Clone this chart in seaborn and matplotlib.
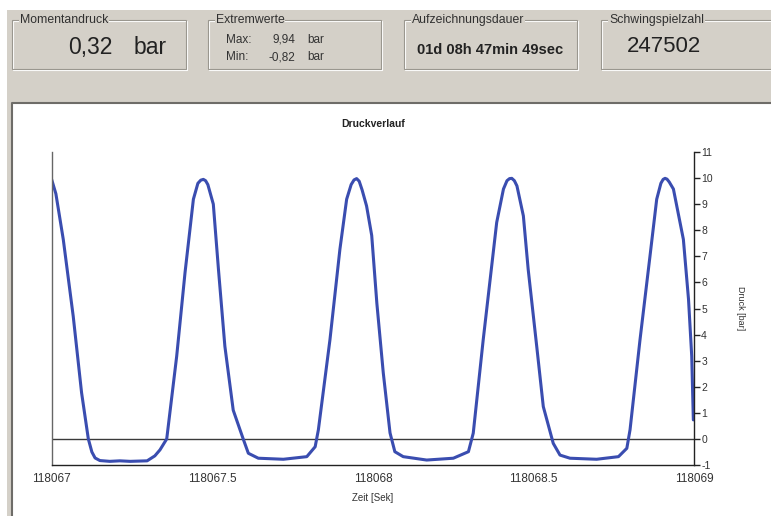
import matplotlib
matplotlib.use("Agg")
import matplotlib.pyplot as plt
import seaborn as sns
import pandas as pd
from matplotlib.patches import Rectangle
from matplotlib.lines import Line2D

# pressure trace (time in s, pressure in bar)
zeit = [118067.000, 118067.013, 118067.036, 118067.067, 118067.093, 118067.114, 118067.125,
        118067.135, 118067.150, 118067.181, 118067.212, 118067.244, 118067.297, 118067.321,
        118067.337, 118067.358, 118067.389, 118067.415, 118067.441, 118067.455, 118067.464,
        118067.472, 118067.479,
        118067.486, 118067.503, 118067.519, 118067.539, 118067.565, 118067.596, 118067.612,
        118067.643, 118067.721, 118067.794, 118067.820, 118067.830, 118067.866, 118067.897,
        118067.918, 118067.932, 118067.941, 118067.949, 118067.957, 118067.966, 118067.980,
        118067.996, 118068.012,
        118068.032, 118068.053, 118068.068, 118068.094, 118068.167, 118068.250, 118068.297,
        118068.312, 118068.343, 118068.385, 118068.406, 118068.417, 118068.425, 118068.432,
        118068.440, 118068.448,
        118068.468, 118068.483, 118068.510, 118068.530, 118068.561, 118068.582, 118068.613,
        118068.696, 118068.764, 118068.790, 118068.800, 118068.831, 118068.862, 118068.883,
        118068.896, 118068.903, 118068.909, 118068.915, 118068.922, 118068.935, 118068.966,
        118068.982, 118068.992, 118068.997]
druck = [9.94, 9.40, 7.65, 4.70, 1.77, 0.00, -0.50,
         -0.73, -0.83, -0.86, -0.84, -0.86, -0.84, -0.65,
         -0.42, 0.00, 3.17, 6.38, 9.19, 9.80, 9.92,
         9.95, 9.90,
         9.75, 9.00, 6.50, 3.55, 1.10, 0.00, -0.55,
         -0.74, -0.78, -0.68, -0.30, 0.35, 3.80, 7.27,
         9.19, 9.75, 9.93, 9.98, 9.88, 9.55, 8.93,
         7.80, 5.20,
         2.53, 0.23, -0.49, -0.68, -0.81, -0.74, -0.49,
         0.22, 3.80, 8.30, 9.58, 9.90, 9.98, 9.99,
         9.90, 9.70,
         8.55, 6.50, 3.50, 1.24, -0.17, -0.62, -0.74,
         -0.78, -0.68, -0.36, 0.35, 3.80, 7.00, 9.19,
         9.80, 9.95, 9.99, 9.96, 9.85, 9.58, 7.65,
         5.35, 3.17, 0.73]

x_ticks = [118067, 118067.5, 118068, 118068.5, 118069]
x_labels = ["118067", "118067.5", "118068", "118068.5", "118069"]
y_ticks = list(range(-1, 12))

# header boxes: title, value text
momentan = "0,32"
max_wert = "9,94"
min_wert = "-0,82"
dauer = "01d 08h 47min 49sec"
schwingspiele = "247502"

W, H = 771, 516
GRAU = "#d4d0c8"

sns.set_style("white")
plt.rcParams["font.family"] = ["Liberation Sans", "DejaVu Sans"]

fig = plt.figure(figsize=(W / 100, H / 100), dpi=100, facecolor=GRAU)


def fx(x):
    return x / W


def fy(y):
    return 1 - y / H


def rect(x0, y0, x1, y1, **kw):
    fig.add_artist(Rectangle((fx(x0), fy(y1)), (x1 - x0) / W, (y1 - y0) / H,
                             transform=fig.transFigure, **kw))


def line(xs, ys, **kw):
    fig.add_artist(Line2D([fx(v) for v in xs], [fy(v) for v in ys],
                          transform=fig.transFigure, **kw))


def txt(x, y, s, **kw):
    fig.text(fx(x), fy(y), s, **kw)


# screenshot margins and the white chart panel
rect(0, 0, W, 10, facecolor="white", edgecolor="none")
rect(0, 0, 7, H, facecolor="white", edgecolor="none")
rect(12, 103, W, H, facecolor="white", edgecolor="none")
line([12, 12, W], [H, 103, 103], color="#6e6c68", lw=1.5)

# group boxes in the header
boxes = [(12, 186, "Momentandruck"), (208, 381, "Extremwerte"),
         (404, 577, "Aufzeichnungsdauer"), (601, 790, "Schwingspielzahl")]
for x0, x1, titel in boxes:
    rect(x0 + 1, 21, x1 + 1, 70, facecolor="none", edgecolor="white", lw=0.8)
    rect(x0, 20, x1, 69, facecolor="none", edgecolor="#9a978f", lw=0.8)
    txt(x0 + 8, 20, titel, fontsize=8.8, color="#303030", va="center", ha="left",
        bbox=dict(facecolor=GRAU, edgecolor="none", pad=0.5))

txt(112, 48, momentan, fontsize=16.5, color="#222222", ha="right", va="center")
txt(134, 48, "bar", fontsize=16.5, color="#222222", ha="left", va="center")

txt(226, 40, "Max:", fontsize=8.5, color="#333333", va="center")
txt(295, 40, max_wert, fontsize=8.5, color="#333333", va="center", ha="right")
txt(307, 40, "bar", fontsize=8.5, color="#333333", va="center")
txt(226, 57, "Min:", fontsize=8.5, color="#333333", va="center")
txt(295, 57, min_wert, fontsize=8.5, color="#333333", va="center", ha="right")
txt(307, 57, "bar", fontsize=8.5, color="#333333", va="center")

txt(490, 50, dauer, fontsize=10.5, fontweight="bold", color="#222222",
    ha="center", va="center")
txt(664, 47, schwingspiele, fontsize=16, color="#222222", ha="center", va="center")

# chart
ax = fig.add_axes([fx(51.7), fy(465), (694.3 - 51.7) / W, (465 - 152) / H])
ax.set_zorder(5)
ax.set_facecolor("none")

df = pd.DataFrame({"Zeit": zeit, "Druck": druck})
sns.lineplot(data=df, x="Zeit", y="Druck", ax=ax, color="#3a4db0", lw=2.2,
             solid_joinstyle="round", solid_capstyle="round")
ax.axhline(0, color="#3a3a3a", lw=1, zorder=1)

ax.set_xlim(118067, 118069)
ax.set_ylim(-1, 11)
ax.set_xticks(x_ticks)
ax.set_xticklabels(x_labels)
ax.set_yticks(y_ticks)
ax.set_yticklabels([str(v) for v in y_ticks])

ax.spines["top"].set_visible(False)
ax.spines["left"].set_color("#666666")
ax.spines["bottom"].set_color("#222222")
ax.spines["right"].set_color("#222222")
for s in ["left", "bottom", "right"]:
    ax.spines[s].set_linewidth(1)

ax.tick_params(axis="y", left=False, labelleft=False, right=True, labelright=True,
               direction="out", length=4, width=1, color="#222222",
               labelsize=7.5, pad=1, labelcolor="#333333")
ax.tick_params(axis="x", direction="out", length=4, width=1, color="#222222",
               labelsize=8.5, pad=2, labelcolor="#333333")

ax.set_xlabel("Zeit [Sek]", fontsize=7, color="#333333")
ax.xaxis.set_label_coords(0.5, -(493 - 465) / 313)
ax.set_ylabel("Druck [bar]", fontsize=6.5, color="#333333", rotation=270, va="center")
ax.yaxis.set_label_position("right")
ax.yaxis.set_label_coords((745 - 51.7) / 642.6, 0.5)
ax.text(0.5, (465 - 124) / 313, "Druckverlauf", transform=ax.transAxes,
        fontsize=7.5, fontweight="bold", ha="center", va="center", color="#222222")

fig.savefig("out.png", dpi=100, facecolor=fig.get_facecolor())
